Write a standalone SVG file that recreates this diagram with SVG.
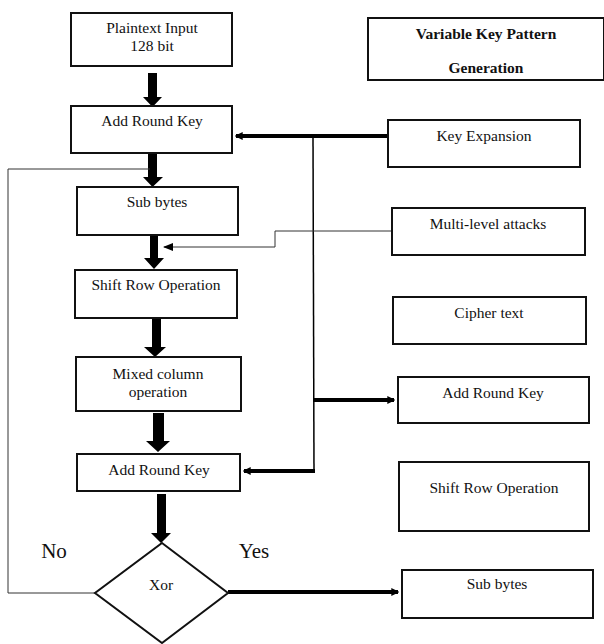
<svg xmlns="http://www.w3.org/2000/svg" width="604" height="644" viewBox="0 0 604 644">
<defs>
<style>
.box{fill:#fff;stroke:#111;stroke-width:2}
.t{font-family:'Liberation Serif','DejaVu Serif',serif;font-size:15.5px;fill:#111;text-anchor:middle}
.b{font-weight:bold}
.thin{fill:none;stroke:#333;stroke-width:1}
.thick{fill:none;stroke:#000;stroke-width:4}
.blk{fill:#000}
</style>
<marker id="ah" viewBox="0 0 6 6" refX="5" refY="3" markerWidth="2" markerHeight="2" orient="auto">
<path d="M0,0 L6,3 L0,6 z" fill="#000"/>
</marker>
<marker id="ahs" viewBox="0 0 10 8" refX="9" refY="4" markerWidth="10" markerHeight="8" markerUnits="userSpaceOnUse" orient="auto">
<path d="M0,0 L10,4 L0,8 z" fill="#000"/>
</marker>
</defs>
<rect width="604" height="644" fill="#fff"/>
<g id="connectors">
<polygon class="blk" points="148,73 157,73 157,97 162,97 152.5,107 143,97 148,97"/>
<polygon class="blk" points="148,153 157,153 157,177 163,177 152.5,187 143,177 148,177"/>
<polygon class="blk" points="150,235 158,235 158,258 164,258 154,269 144,258 150,258"/>
<polygon class="blk" points="152,318 161,318 161,347 166,347 155,357 144,347 152,347"/>
<polygon class="blk" points="153,413 164,413 164,441 170,441 158,452 146,441 153,441"/>
<polygon class="blk" points="157,494 166,494 166,533 171,533 161,543 151,533 157,533"/>
<line class="thick" x1="388" y1="136" x2="236" y2="136" marker-end="url(#ah)"/>
<polyline class="thin" style="stroke:#000;stroke-width:1.5" points="313,136 314,471"/>
<line class="thick" x1="315" y1="471" x2="244" y2="471" marker-end="url(#ah)"/>
<line class="thick" x1="313" y1="400" x2="394" y2="400" marker-end="url(#ah)"/>
<line class="thick" x1="228" y1="592" x2="398" y2="592" marker-end="url(#ah)"/>
<polyline class="thin" points="392,231 275,231 275,247 164,247" marker-end="url(#ahs)"/>
<polyline class="thin" points="150,169 8,169 8,593 95,593"/>
</g>
<g id="plaintext"><rect class="box" x="71" y="13" width="161" height="53"/><text class="t" x="152" y="33">Plaintext Input</text><text class="t" x="152" y="51">128 bit</text></g>
<g id="ark1"><rect class="box" x="71" y="106" width="161" height="47"/><text class="t" x="152" y="126">Add Round Key</text></g>
<g id="subbytes1"><rect class="box" x="77" y="187" width="161" height="48"/><text class="t" x="157" y="207">Sub bytes</text></g>
<g id="shiftrow1"><rect class="box" x="75" y="270" width="162" height="48"/><text class="t" x="156" y="290">Shift Row Operation</text></g>
<g id="mixed"><rect class="box" x="76" y="357" width="165" height="54"/><text class="t" x="158" y="379">Mixed column</text><text class="t" x="158" y="397">operation</text></g>
<g id="ark2"><rect class="box" x="77" y="454" width="163" height="37"/><text class="t" x="159" y="475">Add Round Key</text></g>
<g id="xor"><polygon class="box" points="162,543 228,593 162,643 95,593"/><text class="t" x="161" y="590">Xor</text></g>
<g id="labels"><text class="t" x="54" y="558" style="font-size:21px">No</text><text class="t" x="254" y="558" style="font-size:21px">Yes</text></g>
<g id="vkpg"><rect class="box" x="368" y="18" width="236" height="62"/><text class="t b" x="486" y="39">Variable Key Pattern</text><text class="t b" x="486" y="73">Generation</text></g>
<g id="keyexp"><rect class="box" x="388" y="120" width="192" height="47"/><text class="t" x="484" y="141">Key Expansion</text></g>
<g id="multilevel"><rect class="box" x="392" y="208" width="193" height="47"/><text class="t" x="488" y="229">Multi-level attacks</text></g>
<g id="cipher"><rect class="box" x="393" y="297" width="193" height="47"/><text class="t" x="489" y="318">Cipher text</text></g>
<g id="ark3"><rect class="box" x="398" y="377" width="191" height="46"/><text class="t" x="493" y="398">Add Round Key</text></g>
<g id="shiftrow2"><rect class="box" x="399" y="462" width="190" height="69"/><text class="t" x="494" y="493">Shift Row Operation</text></g>
<g id="subbytes2"><rect class="box" x="402" y="570" width="191" height="48"/><text class="t" x="497" y="589">Sub bytes</text></g>
</svg>
